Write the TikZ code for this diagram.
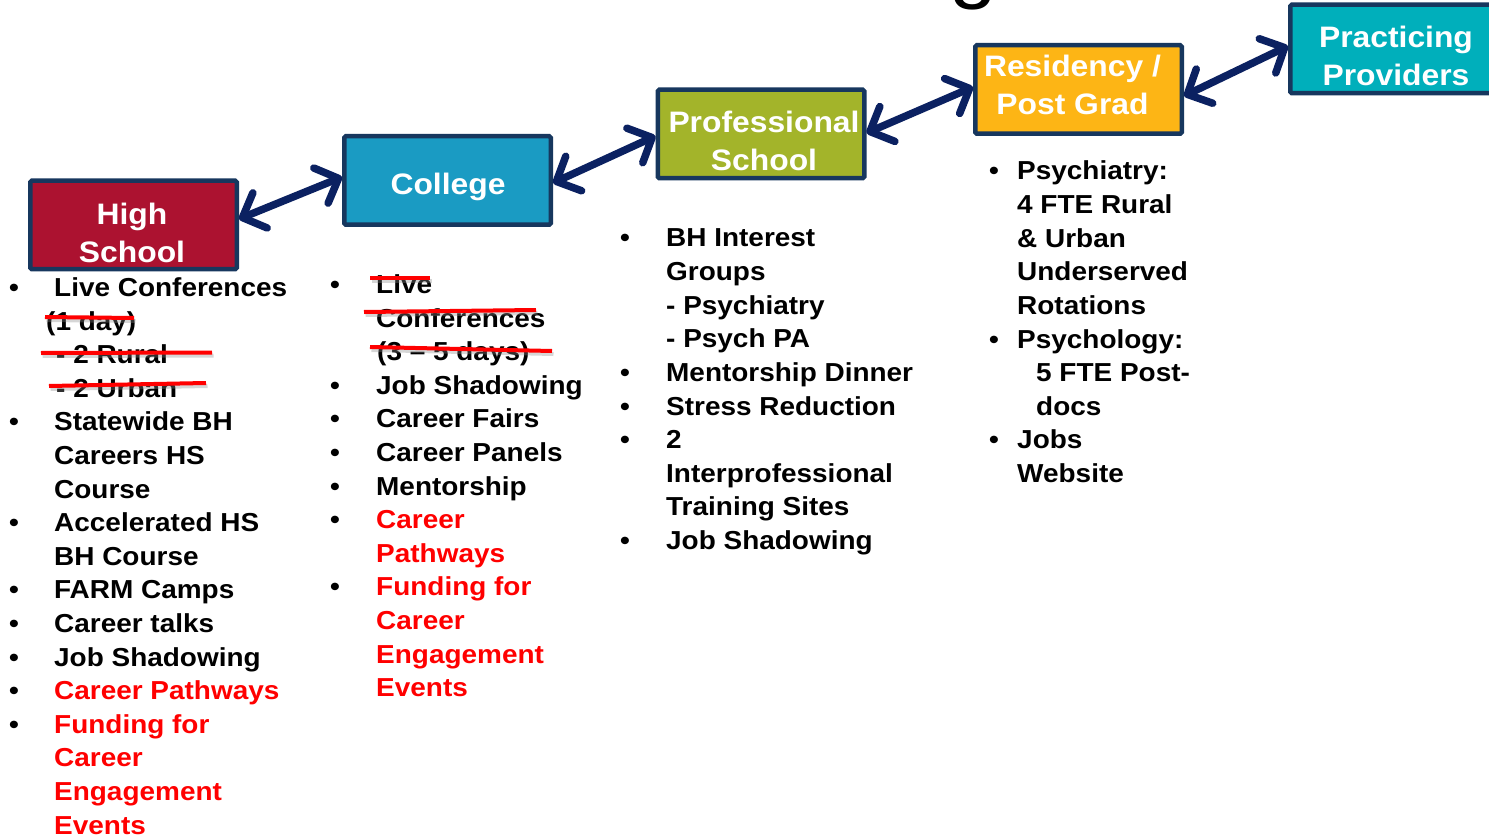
\documentclass[tikz,border=0pt]{standalone}
\usepackage{fontspec}
\setmainfont{Liberation Sans}[FakeStretch=1.075]
\usetikzlibrary{arrows.meta}
\definecolor{navyb}{HTML}{17375E}
\definecolor{arrowc}{HTML}{0B2161}
\definecolor{hsred}{HTML}{AC1230}
\definecolor{colblue}{HTML}{1A9BC3}
\definecolor{profgreen}{HTML}{A3B42A}
\definecolor{resyellow}{HTML}{FDB515}
\definecolor{practeal}{HTML}{00AFBB}
\definecolor{strikered}{HTML}{FF0000}
\begin{document}
\begin{tikzpicture}[x=1pt,y=-1pt,
  lst/.style={font=\fontsize{26}{33.6}\selectfont\bfseries, inner sep=0pt, anchor=base west},
  redt/.style={lst, text=strikered},
  bul/.style={font=\fontsize{26}{33.6}\selectfont\bfseries, inner sep=0pt, anchor=base},
  box/.style={draw=navyb, line width=4.5pt, rounded corners=1.5pt, minimum width=206.5pt, minimum height=88.5pt, inner sep=0pt},
  lab/.style={font=\fontsize{29.6}{37.5}\selectfont\bfseries, text=white, inner sep=0pt, anchor=base},
  dbl/.style={draw=arrowc, line width=7.5pt, line cap=round,
    {Straight Barb[length=19pt,width=38pt,round]}-{Straight Barb[length=19pt,width=38pt,round]}},
  strk/.style={draw=strikered, line width=4pt},
  strks/.style={draw=black!45, line width=4pt, opacity=0.35}
]
\useasboundingbox (0,0) rectangle (1489,837);
\clip (0,0) rectangle (1489,837);
\fill[white] (0,0) rectangle (1489,837);

% partial title glyph at the top edge
\node[font=\fontsize{80}{80}\selectfont, inner sep=0pt, anchor=base] (gfrag) at (973,-6) {g};

% boxes
\node[box, fill=hsred] (hs) at (133.5,225) {};
\node[box, fill=colblue] (col) at (447.5,180.5) {};
\node[box, fill=profgreen] (prof) at (761,134) {};
\node[box, fill=resyellow] (res) at (1078.5,89.5) {};
\node[box, fill=practeal] (prac) at (1393.5,49) {};

\node[lab] (hsA) at (132,224.5) {High};
\node[lab] (hsB) at (132,262) {School};
\node[lab] (colA) at (448,194.5) {College};
\node[lab] (profA) at (764,132.5) {Professional};
\node[lab] (profB) at (764,170.5) {School};
\node[lab] (resA) at (1072.5,76.5) {Residency /};
\node[lab] (resB) at (1072.5,114.5) {Post Grad};
\node[lab] (pracA) at (1396,47.5) {Practicing};
\node[lab] (pracB) at (1396,85.5) {Providers};

% arrows
\draw[dbl] ([yshift=6pt]hs.east) -- ([yshift=3.5pt]col.west);
\draw[dbl] ([yshift=-2.5pt]col.east) -- ([yshift=-2pt]prof.west);
\draw[dbl] ([yshift=1pt]prof.east) -- ([yshift=2.5pt]res.west);
\draw[dbl] ([yshift=-6.5pt]res.east) -- ([yshift=3pt]prac.west);

% High School column
\node[bul] (hb0) at (14,296.5) {•};
\node[lst] (h0) at (54,296.5) {Live Conferences};
\node[lst] (h1) at (46,330.1) {(1 day)};
\node[lst] (h2) at (56,363.7) {- 2 Rural};
\node[lst] (h3) at (56,397.3) {- 2 Urban};
\node[bul] (hb4) at (14,430.9) {•};
\node[lst] (h4) at (54,430.9) {Statewide BH};
\node[lst] (h5) at (54,464.5) {Careers HS};
\node[lst] (h6) at (54,498.1) {Course};
\node[bul] (hb7) at (14,531.7) {•};
\node[lst] (h7) at (54,531.7) {Accelerated HS};
\node[lst] (h8) at (54,565.3) {BH Course};
\node[bul] (hb9) at (14,598.9) {•};
\node[lst] (h9) at (54,598.9) {FARM Camps};
\node[bul] (hb10) at (14,632.5) {•};
\node[lst] (h10) at (54,632.5) {Career talks};
\node[bul] (hb11) at (14,666.1) {•};
\node[lst] (h11) at (54,666.1) {Job Shadowing};
\node[bul] (hb12) at (14,699.7) {•};
\node[redt] (h12) at (54,699.7) {Career Pathways};
\node[bul] (hb13) at (14,733.3) {•};
\node[redt] (h13) at (54,733.3) {Funding for};
\node[redt] (h14) at (54,766.9) {Career};
\node[redt] (h15) at (54,800.5) {Engagement};
\node[redt] (h16) at (54,834.1) {Events};

% College column
\node[bul] (cb0) at (335,293.5) {•};
\node[lst] (c0) at (376,293.5) {Live};
\node[lst] (c1) at (376,327.1) {Conferences};
\node[lst] (c2) at (377,360.7) {(3 – 5 days)};
\node[bul] (cb3) at (335,394.3) {•};
\node[lst] (c3) at (376,394.3) {Job Shadowing};
\node[bul] (cb4) at (335,427.9) {•};
\node[lst] (c4) at (376,427.9) {Career Fairs};
\node[bul] (cb5) at (335,461.5) {•};
\node[lst] (c5) at (376,461.5) {Career Panels};
\node[bul] (cb6) at (335,495.1) {•};
\node[lst] (c6) at (376,495.1) {Mentorship};
\node[bul] (cb7) at (335,528.7) {•};
\node[redt] (c7) at (376,528.7) {Career};
\node[redt] (c8) at (376,562.3) {Pathways};
\node[bul] (cb9) at (335,595.9) {•};
\node[redt] (c9) at (376,595.9) {Funding for};
\node[redt] (c10) at (376,629.5) {Career};
\node[redt] (c11) at (376,663.1) {Engagement};
\node[redt] (c12) at (376,696.7) {Events};

% strike-throughs
\draw[strks] (46.5,320) -- (135.5,321);
\draw[strks] (42.5,356) -- (213.5,355.5);
\draw[strks] (50.5,389) -- (207.5,386);
\draw[strks] (371.5,281) -- (431.5,281);
\draw[strks] (365.5,315) -- (537.5,313);
\draw[strks] (371.5,350) -- (553.5,354);
\draw[strk] (45,317) -- (134,318);
\draw[strk] (41,353) -- (212,352.5);
\draw[strk] (49,386) -- (206,383);
\draw[strk] (370,278) -- (430,278);
\draw[strk] (364,312) -- (536,310);
\draw[strk] (370,347) -- (552,351);

% Professional School column
\node[bul] (pb0) at (625,247) {•};
\node[lst] (p0) at (666,247) {BH Interest};
\node[lst] (p1) at (666,280.6) {Groups};
\node[lst] (p2) at (666,314.2) {- Psychiatry};
\node[lst] (p3) at (666,347.8) {- Psych PA};
\node[bul] (pb4) at (625,381.4) {•};
\node[lst] (p4) at (666,381.4) {Mentorship Dinner};
\node[bul] (pb5) at (625,415) {•};
\node[lst] (p5) at (666,415) {Stress Reduction};
\node[bul] (pb6) at (625,448.6) {•};
\node[lst] (p6) at (666,448.6) {2};
\node[lst] (p7) at (666,482.2) {Interprofessional};
\node[lst] (p8) at (666,515.8) {Training Sites};
\node[bul] (pb9) at (625,549.4) {•};
\node[lst] (p9) at (666,549.4) {Job Shadowing};

% Residency column
\node[bul] (rb0) at (994,180) {•};
\node[lst] (r0) at (1017,180) {Psychiatry:};
\node[lst] (r1) at (1017,213.6) {4 FTE Rural};
\node[lst] (r2) at (1017,247.2) {\& Urban};
\node[lst] (r3) at (1017,280.8) {Underserved};
\node[lst] (r4) at (1017,314.4) {Rotations};
\node[bul] (rb5) at (994,348) {•};
\node[lst] (r5) at (1017,348) {Psychology:};
\node[lst] (r6) at (1036,381.6) {5 FTE Post-};
\node[lst] (r7) at (1036,415.2) {docs};
\node[bul] (rb8) at (994,448.8) {•};
\node[lst] (r8) at (1017,448.8) {Jobs};
\node[lst] (r9) at (1017,482.4) {Website};
\end{tikzpicture}
\end{document}
